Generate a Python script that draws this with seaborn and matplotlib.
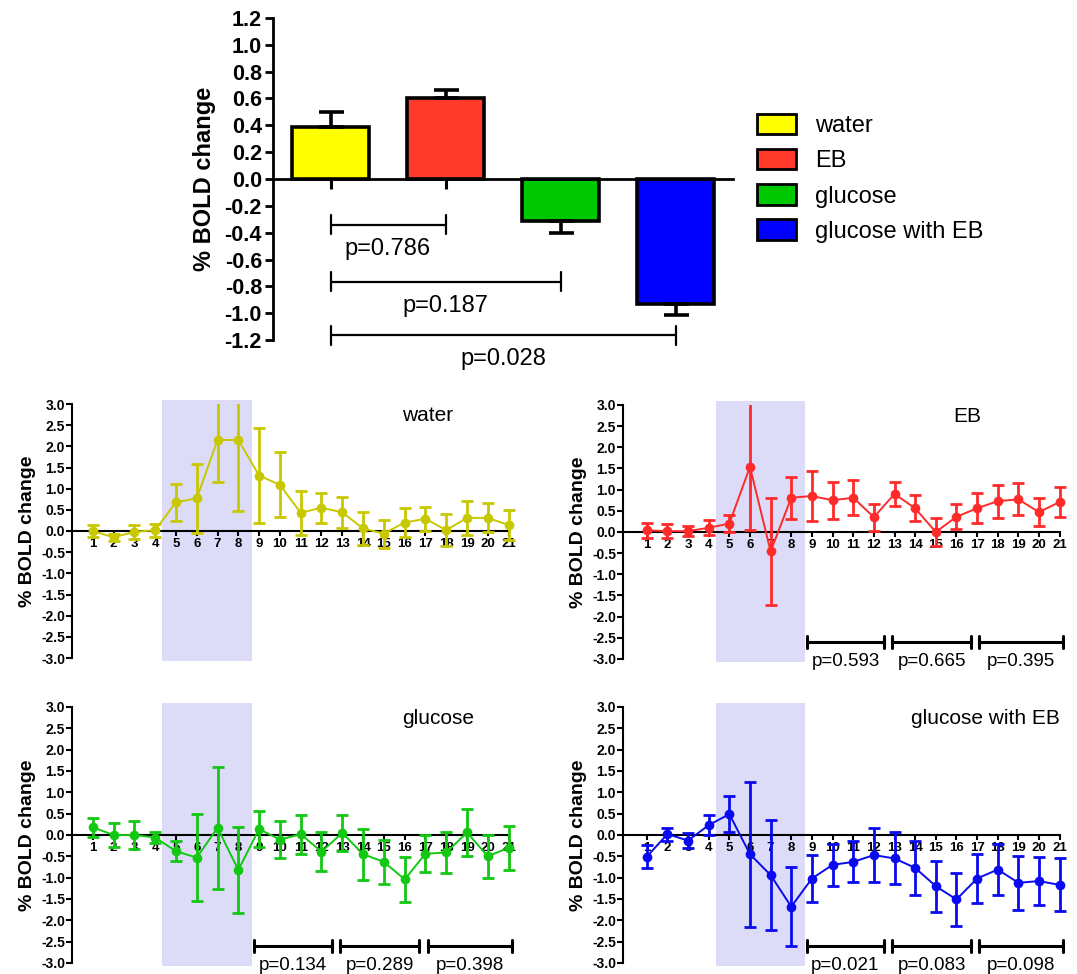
import numpy as np
import pandas as pd
import matplotlib
matplotlib.use('Agg')
import matplotlib.pyplot as plt
import seaborn as sns
from matplotlib.patches import Patch

# ---- data ----
groups = ['water', 'EB', 'glucose', 'glucose with EB']
bar_means = [0.39, 0.60, -0.31, -0.93]
bar_sem = [0.11, 0.065, 0.09, 0.08]
bar_colors = ['#ffff00', '#ff3a2a', '#00c800', '#0000ff']
line_colors = ['#c8c800', '#ff2a2a', '#12c812', '#0a0af0']

bar_pairs = [(0, 1), (0, 2), (0, 3)]
bar_pair_y = [-0.34, -0.765, -1.165]
bar_pvals = ['p=0.786', 'p=0.187', 'p=0.028']

timepoints = list(range(1, 22))
water_mean = [0.0, -0.15, -0.02, 0.02, 0.68, 0.77, 2.15, 2.15, 1.31, 1.09, 0.43,
              0.55, 0.44, 0.06, -0.06, 0.20, 0.29, 0.02, 0.31, 0.31, 0.14]
water_err = [0.15, 0.08, 0.16, 0.15, 0.44, 0.82, 1.0, 1.67, 1.13, 0.77, 0.52,
             0.35, 0.37, 0.38, 0.33, 0.35, 0.28, 0.38, 0.41, 0.34, 0.36]
eb_mean = [0.04, 0.02, 0.02, 0.10, 0.20, 1.54, -0.46, 0.81, 0.85, 0.75, 0.81,
           0.35, 0.90, 0.56, 0.00, 0.36, 0.56, 0.73, 0.77, 0.47, 0.71]
eb_err = [0.18, 0.16, 0.12, 0.18, 0.20, 1.50, 1.27, 0.50, 0.59, 0.44, 0.42,
          0.32, 0.29, 0.31, 0.34, 0.30, 0.35, 0.39, 0.38, 0.34, 0.35]
glu_mean = [0.18, 0.0, 0.0, -0.06, -0.38, -0.53, 0.17, -0.82, 0.14, -0.11, 0.02,
            -0.39, 0.05, -0.45, -0.63, -1.04, -0.44, -0.41, 0.06, -0.50, -0.30]
glu_err = [0.23, 0.27, 0.33, 0.12, 0.23, 1.02, 1.43, 1.0, 0.42, 0.43, 0.46,
           0.45, 0.43, 0.60, 0.52, 0.53, 0.43, 0.49, 0.56, 0.51, 0.52]
geb_mean = [-0.51, 0.02, -0.13, 0.23, 0.49, -0.45, -0.94, -1.68, -1.02, -0.70, -0.63,
            -0.47, -0.55, -0.77, -1.20, -1.51, -1.02, -0.81, -1.12, -1.08, -1.17]
geb_err = [0.27, 0.15, 0.17, 0.23, 0.42, 1.70, 1.29, 0.92, 0.55, 0.50, 0.48,
           0.63, 0.61, 0.64, 0.60, 0.63, 0.58, 0.59, 0.63, 0.57, 0.62]

stim_window = (4.35, 8.65)
block_ranges = [(8.75, 12.5), (12.9, 16.7), (17.1, 21.15)]
eb_pvals = ['p=0.593', 'p=0.665', 'p=0.395']
glu_pvals = ['p=0.134', 'p=0.289', 'p=0.398']
geb_pvals = ['p=0.021', 'p=0.083', 'p=0.098']

# ---- style ----
sns.set_style('ticks')
plt.rcParams['font.family'] = ['Liberation Sans', 'DejaVu Sans']
plt.rcParams['axes.unicode_minus'] = False
for key in ['text.color', 'axes.labelcolor', 'xtick.color', 'ytick.color', 'axes.edgecolor']:
    plt.rcParams[key] = 'black'

W, H = 1077, 974
fig = plt.figure(figsize=(W / 100, H / 100), dpi=100)


def rect(l, r, t, b):
    return [l / W, 1 - b / H, (r - l) / W, (b - t) / H]


def one_decimal(v, pos=None):
    return f'{round(v, 1) + 0.0:.1f}'


# ==========================================
# top bar chart
# ==========================================
ax = fig.add_axes(rect(273, 733, 18, 340))
df_bar = pd.DataFrame({'group': groups, 'mean': bar_means})
sns.barplot(data=df_bar, x='group', y='mean', hue='group', order=groups,
            palette=bar_colors, saturation=1, legend=False, edgecolor='black',
            linewidth=2.6, width=0.67, ax=ax)
for i, (m, e) in enumerate(zip(bar_means, bar_sem)):
    yerr = [[0], [e]] if m > 0 else [[e], [0]]
    ax.errorbar(i, m, yerr=yerr, fmt='none', ecolor='black', elinewidth=2.6,
                capsize=9, capthick=2.6, zorder=3)
ax.set_xlim(-0.5, 3.5)
ax.set_ylim(-1.2, 1.2)
ax.set_yticks(np.round(np.arange(-1.2, 1.21, 0.2), 1))
ax.yaxis.set_major_formatter(matplotlib.ticker.FuncFormatter(one_decimal))
ax.set_xticks(range(4))
ax.set_xticklabels([])
ax.set_xlabel('')
ax.spines['bottom'].set_position(('data', 0))
ax.spines['top'].set_visible(False)
ax.spines['right'].set_visible(False)
for s in ['left', 'bottom']:
    ax.spines[s].set_linewidth(2)
ax.tick_params(axis='y', direction='out', length=6, width=2, labelsize=15.5, pad=2)
ax.tick_params(axis='x', direction='out', length=7, width=2.2)
for lbl in ax.get_yticklabels():
    lbl.set_fontweight('bold')
ax.set_ylabel('% BOLD change', fontsize=17, fontweight='bold')
ax.yaxis.set_label_coords(-0.125, 0.5)

for (a, b), y, p in zip(bar_pairs, bar_pair_y, bar_pvals):
    ax.plot([a, b], [y, y], color='black', lw=1.6, clip_on=False)
    for xx in (a, b):
        ax.plot([xx, xx], [y - 0.07, y + 0.07], color='black', lw=1.6, clip_on=False)
    ax.text((a + b) / 2, y - 0.18, p, ha='center', va='center', fontsize=17)

handles = [Patch(facecolor=c, edgecolor='black', linewidth=2) for c in bar_colors]
fig.legend(handles, groups, loc='upper left', bbox_to_anchor=(757 / W, 1 - 114 / H),
           frameon=False, fontsize=17, handlelength=1.65, handleheight=0.95,
           handletextpad=0.8, labelspacing=0.5, borderpad=0, borderaxespad=0)

# ==========================================
# time course panels
# ==========================================
panels = [
    ('water', water_mean, water_err, line_colors[0], rect(72, 519, 404, 658), 0.0, None, 17.1),
    ('EB', eb_mean, eb_err, line_colors[1], rect(623, 1070, 405, 659), -0.15, eb_pvals, 16.5),
    ('glucose', glu_mean, glu_err, line_colors[2], rect(72, 519, 707, 963), 0.0, glu_pvals, 17.6),
    ('glucose with EB', geb_mean, geb_err, line_colors[3], rect(623, 1070, 707, 963), -0.15, geb_pvals, 17.4),
]

for name, mean, err, col, r, xleft, pvals, tx in panels:
    ax = fig.add_axes(r)
    ax.axvspan(stim_window[0], stim_window[1], ymin=-0.012, ymax=1.015,
               color='#dcdcf8', zorder=0, lw=0, clip_on=False)
    sns.lineplot(x=timepoints, y=mean, color=col, marker='o', markersize=7,
                 markeredgewidth=0, linewidth=1.4, ax=ax, zorder=3)
    ax.errorbar(timepoints, mean, yerr=err, fmt='none', ecolor=col, elinewidth=2,
                capsize=4, capthick=2, zorder=3)
    ax.set_xlim(xleft, 21.5)
    ax.set_ylim(-3, 3)
    ax.set_yticks(np.round(np.arange(-3, 3.01, 0.5), 1))
    ax.yaxis.set_major_formatter(matplotlib.ticker.FuncFormatter(one_decimal))
    ax.set_xticks(timepoints)
    ax.spines['bottom'].set_position(('data', 0))
    ax.spines['bottom'].set_bounds(xleft, 21)
    ax.spines['top'].set_visible(False)
    ax.spines['right'].set_visible(False)
    ax.spines['left'].set_linewidth(1.5)
    ax.spines['bottom'].set_linewidth(1.5)
    ax.tick_params(axis='y', direction='out', length=4, width=1.5, labelsize=10, pad=1)
    ax.tick_params(axis='x', direction='out', length=3.5, width=1.5, labelsize=9.5, pad=1.5)
    for lbl in ax.get_yticklabels() + ax.get_xticklabels():
        lbl.set_fontweight('bold')
    ax.set_ylabel('% BOLD change', fontsize=14, fontweight='bold')
    ax.yaxis.set_label_coords(-0.08, 0.5)
    ax.text(tx, 2.74, name, ha='center', va='center', fontsize=15)
    if pvals is not None:
        for (a, b), p in zip(block_ranges, pvals):
            ax.plot([a, b], [-2.6, -2.6], color='black', lw=2.2, clip_on=False)
            for xx in (a, b):
                ax.plot([xx, xx], [-2.74, -2.46], color='black', lw=2.2, clip_on=False)
            ax.text((a + b) / 2, -3.06, p, ha='center', va='center', fontsize=13.5)

fig.savefig('out.png', dpi=100)
